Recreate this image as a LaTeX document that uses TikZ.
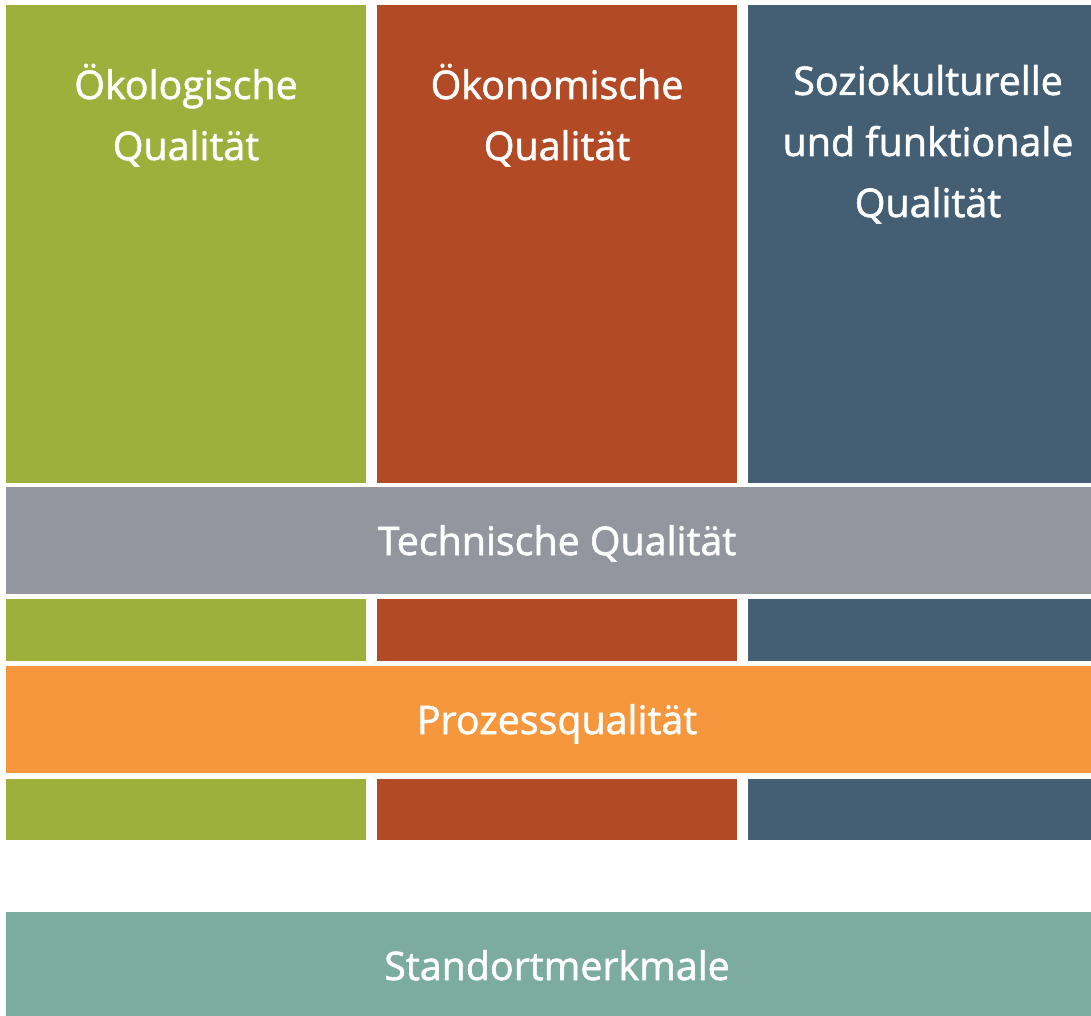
\documentclass[tikz,border=0pt]{standalone}
\usepackage{fontspec}
\setmainfont{Open Sans}
\newfontfamily\qfont{Open Sans}[FakeBold=1.5]
\definecolor{oekogreen}{HTML}{9CB03B}
\definecolor{oekored}{HTML}{B34A26}
\definecolor{soziblue}{HTML}{445F74}
\definecolor{techgrey}{HTML}{93969F}
\definecolor{prozorange}{HTML}{F6973D}
\definecolor{standteal}{HTML}{7BAC9E}
\begin{document}
\begin{tikzpicture}[x=0.025cm, y=-0.025cm,
    qbox/.style={rectangle, inner sep=0pt, anchor=north west, minimum width=9cm},
    widebox/.style={rectangle, inner sep=0pt, anchor=north west, minimum width=27.55cm, minimum height=2.675cm},
    qtext/.style={text=white, inner sep=0pt, align=center, anchor=base,
        font=\qfont\fontsize{28}{43.4}\selectfont}]
            \useasboundingbox (0, 0) rectangle (1091, 1015);
            \clip (0, 0) rectangle (1091, 1015);

            % the three pillars
            \node (oeko) at (6, 5) [qbox, fill=oekogreen, minimum height=11.95cm] {};
            \node (oekon) at (377, 5) [qbox, fill=oekored, minimum height=11.95cm] {};
            \node (sozi) at (748, 5) [qbox, fill=soziblue, minimum height=11.95cm] {};

            % base anchor sits on the last line
            \node (oekotext) at (186, 160) [qtext] {Ökologische\\Qualität};
            \node (oekontext) at (557, 160) [qtext] {Ökonomische\\Qualität};
            \node (sozitext) at (928, 217) [qtext] {Soziokulturelle\\und funktionale\\Qualität};

            % cross-cutting bars
            \node (tech) at (6, 487) [widebox, fill=techgrey] {};
            \node (techtext) at (557, 555) [qtext] {Technische Qualität};

            \node (oeko2) at (6, 599) [qbox, fill=oekogreen, minimum height=1.55cm] {};
            \node (oekon2) at (377, 599) [qbox, fill=oekored, minimum height=1.55cm] {};
            \node (sozi2) at (748, 599) [qbox, fill=soziblue, minimum height=1.55cm] {};

            \node (proz) at (6, 666) [widebox, fill=prozorange] {};
            \node (proztext) at (557, 734) [qtext] {Prozessqualität};

            \node (oeko3) at (6, 779) [qbox, fill=oekogreen, minimum height=1.525cm] {};
            \node (oekon3) at (377, 779) [qbox, fill=oekored, minimum height=1.525cm] {};
            \node (sozi3) at (748, 779) [qbox, fill=soziblue, minimum height=1.525cm] {};

            % site
            \node (stand) at (6, 912) [widebox, fill=standteal] {};
            \node (standtext) at (557, 980) [qtext] {Standortmerkmale};
        \end{tikzpicture}
\end{document}
